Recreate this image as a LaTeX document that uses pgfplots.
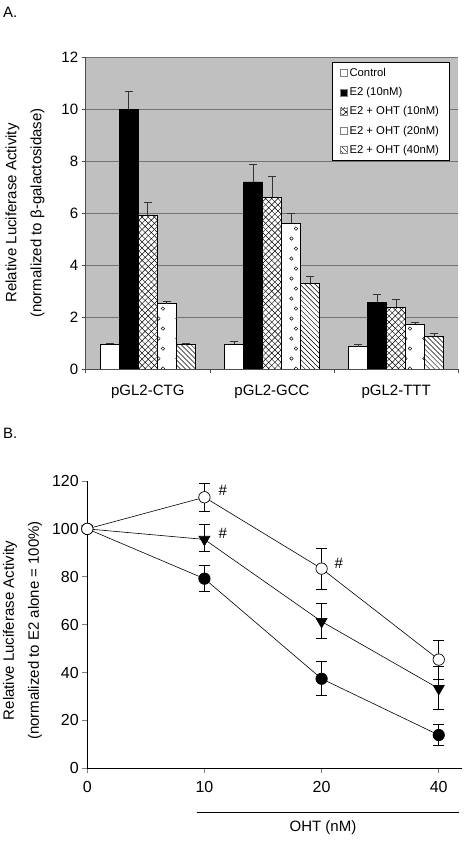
\documentclass[border=0pt]{standalone}
\usepackage{pgfplots}
\pgfplotsset{compat=1.18}
\usepackage{fontspec}
\setmainfont{Liberation Sans}
\usetikzlibrary{patterns}
\definecolor{plotbg}{RGB}{192,192,192}
\pgfdeclarepatternformonly{dcross}{\pgfqpoint{-1pt}{-1pt}}{\pgfqpoint{7pt}{7pt}}{\pgfqpoint{6.2pt}{6.2pt}}{%
  \pgfsetlinewidth{0.45pt}%
  \pgfpathmoveto{\pgfqpoint{0pt}{0pt}}\pgfpathlineto{\pgfqpoint{6.25pt}{6.25pt}}%
  \pgfpathmoveto{\pgfqpoint{0pt}{6.2pt}}\pgfpathlineto{\pgfqpoint{6.25pt}{-0.05pt}}%
  \pgfusepath{stroke}}
\pgfdeclarepatternformonly{nwl}{\pgfqpoint{-1pt}{-1pt}}{\pgfqpoint{6pt}{6pt}}{\pgfqpoint{5pt}{5pt}}{%
  \pgfsetlinewidth{0.45pt}%
  \pgfpathmoveto{\pgfqpoint{0pt}{5pt}}\pgfpathlineto{\pgfqpoint{5.05pt}{-0.05pt}}%
  \pgfusepath{stroke}}
\pgfdeclarepatternformonly{ocircles}{\pgfqpoint{0pt}{0pt}}{\pgfqpoint{19pt}{20pt}}{\pgfqpoint{19pt}{20pt}}{%
  \pgfsetlinewidth{0.45pt}%
  \pgfpathcircle{\pgfqpoint{7.5pt}{4.5pt}}{1.75pt}%
  \pgfpathcircle{\pgfqpoint{12pt}{14.5pt}}{1.75pt}%
  \pgfusepath{stroke}}
\newcommand{\tfont}{\fontsize{15bp}{18bp}\selectfont}
\begin{document}
\begin{tikzpicture}
\path[use as bounding box] (0,0) rectangle (466bp,841bp);
\node[anchor=base west, font=\tfont, inner sep=0] at (3bp,823bp) {A.};
\node[anchor=base west, font=\tfont, inner sep=0] at (3bp,402bp) {B.};
\node[rotate=90, align=center, font=\fontsize{15bp}{25bp}\selectfont] at (25bp,628bp) {Relative Luciferase Activity\\(normalized to β-galactosidase)};
\node[rotate=90, align=center, font=\fontsize{15bp}{25bp}\selectfont] at (22.5bp,210.5bp) {Relative Luciferase Activity\\(normalized to E2 alone = 100\%)};
\begin{axis}[
  at={(85.7bp,472bp)}, anchor=south west, scale only axis,
  width=372.6bp, height=311.7bp,
  xmin=-0.5, xmax=2.5, ymin=0, ymax=12,
  axis background/.style={fill=plotbg},
  axis x line*=bottom, axis y line*=left,
  axis line style={-, draw=black!70, line width=0.6bp},
  ytick={0,2,...,12}, ymajorgrids, major grid style={black!55, line width=0.5bp},
  xtick={-0.5,0.5,1.5,2.5}, x tick label as interval,
  xticklabels={pGL2-CTG,pGL2-GCC,pGL2-TTT},
  tick align=outside, major tick length=4bp,
  tick style={black!70, line width=0.6bp},
  tick label style={font=\tfont},
  /pgf/number format/assume math mode=true,
  xticklabel style={yshift=-9bp},
  ybar, bar width=19bp,
  legend style={at={(rel axis cs:0.976,0.985)}, anchor=north east, draw=black, fill=white,
     font=\fontsize{11.3bp}{13bp}\selectfont, row sep=5.5bp, cells={anchor=west},
     inner xsep=8bp, inner ysep=4bp, line width=0.7bp},
  legend image code/.code={\draw[#1,draw=gray,line width=0.4bp] (0bp,-3.5bp) rectangle (7bp,3.5bp);},
  error bars/y dir=plus, error bars/y explicit,
  error bars/error bar style={black!80, line width=0.8bp},
  error bars/error mark options={rotate=90, black!80, line width=0.8bp, mark size=4bp},
]
\addplot[bar shift=-38bp, fill=white, draw=black, line width=0.5bp] coordinates {
  (0,0.95) += (0,0.03) (1,0.95) += (0,0.12) (2,0.86) += (0,0.09)};
\addlegendentry{Control}
\addplot[bar shift=-19bp, fill=black, draw=black, line width=0.5bp] coordinates {
  (0,10.0) += (0,0.70) (1,7.20) += (0,0.67) (2,2.57) += (0,0.29)};
\addlegendentry{E2 (10nM)}
\addplot[bar shift=0bp, fill=white, draw=black, line width=0.5bp, postaction={pattern=dcross}] coordinates {
  (0,5.92) += (0,0.50) (1,6.62) += (0,0.79) (2,2.37) += (0,0.31)};
\addlegendentry{E2 + OHT (10nM)}
\addplot[bar shift=19bp, fill=white, draw=black, line width=0.5bp, postaction={pattern=ocircles}] coordinates {
  (0,2.52) += (0,0.10) (1,5.62) += (0,0.37) (2,1.72) += (0,0.06)};
\addlegendentry{E2 + OHT (20nM)}
\addplot[bar shift=38bp, fill=white, draw=black, line width=0.5bp, postaction={pattern=nwl}] coordinates {
  (0,0.95) += (0,0.02) (1,3.30) += (0,0.27) (2,1.25) += (0,0.11)};
\addlegendentry{E2 + OHT (40nM)}
\end{axis}
\begin{axis}[
  at={(87.3bp,72.7bp)}, anchor=south west, scale only axis,
  width=374.4bp, height=287.3bp,
  xmin=0, xmax=3.196, ymin=0, ymax=120,
  axis x line*=bottom, axis y line*=left,
  axis line style={-, line width=0.8bp},
  xtick={0,1,2,3}, xticklabels={0,10,20,40},
  ytick={0,20,...,120},
  tick align=outside, major tick length=5bp,
  tick style={line width=0.8bp},
  tick label style={font=\fontsize{16bp}{18bp}\selectfont},
  xticklabel style={yshift=-5bp},
  /pgf/number format/assume math mode=true,
  clip=false,
  error bars/y dir=both, error bars/y explicit,
  error bars/error bar style={black, line width=0.7bp},
  error bars/error mark options={rotate=90, black, line width=0.7bp, mark size=5.5bp},
]
\addplot[black, line width=0.6bp, mark=*, mark size=5.7bp, mark options={fill=black, line width=0.7bp}] coordinates {
  (0,100) (1,79.2) += (0,5.4) -= (0,5.1) (2,37.4) += (0,7.3) -= (0,6.9) (3,13.9) += (0,4.5) -= (0,4.4)};
\addplot[black, line width=0.6bp, mark=triangle*, mark size=6.3bp, mark options={rotate=180, fill=black, line width=0.7bp}] coordinates {
  (0,100) (1,95.6) += (0,6.3) -= (0,5.1) (2,61.3) += (0,7.5) -= (0,6.9) (3,33.3) += (0,9.2) -= (0,8.7)};
\addplot[black, line width=0.6bp, mark=*, mark size=5.7bp, mark options={fill=white, line width=0.7bp}] coordinates {
  (0,100) (1,113.2) += (0,5.8) -= (0,5.7) (2,83.4) += (0,8.3) -= (0,8.6) (3,45.4) += (0,8.1) -= (0,8.1)};
\node[font=\tfont] at (axis cs:1.156,116) {\#};
\node[font=\tfont] at (axis cs:1.156,98) {\#};
\node[font=\tfont] at (axis cs:2.147,85.6) {\#};
\draw[line width=1.3bp] (axis cs:0.934,-18.4) -- (axis cs:3.176,-18.4);
\node[font=\tfont] at (axis cs:2.012,-24.9) {OHT (nM)};
\end{axis}
\end{tikzpicture}
\end{document}
